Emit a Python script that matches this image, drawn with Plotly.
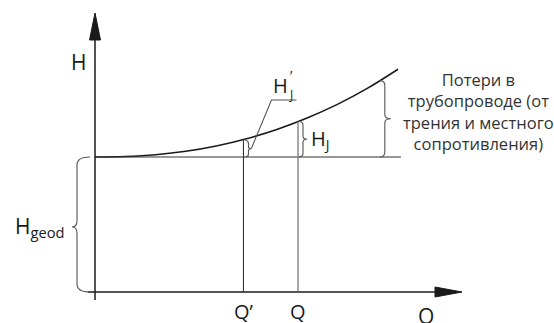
import plotly.graph_objects as go
import numpy as np

# ---- data (schematic system curve) ----
Q_CURVE = [0, 1, 2, 3, 4, 5, 6, 7, 8, 9, 10]
H_CURVE = [10.0, 10.04, 10.17, 10.42, 10.81, 11.35, 12.04, 12.89, 13.9, 15.1, 16.5]
H_GEOD = 10.0
Q_PRIME = 4.9
Q_OP = 6.7
Q_STATIC_END = 10.1
Q_LOSS_BRACE = 9.4
X_LABEL = "Q"
Y_LABEL = "H"
LOSS_TEXT = "Потери в<br>трубопроводе (от<br>трения и местного<br>сопротивления)"

# ---- layout geometry ----
W, HGT = 554, 323
X0_PX, Y0_PX = 95, 292
SX, SY = 30.3, 13.5
FONT = "Open Sans"


def px_x(q):
    return X0_PX + q * SX


def px_y(h):
    return Y0_PX - h * SY


def dat(xp, yp):
    return (xp - X0_PX) / SX, (Y0_PX - yp) / SY


def P(xp, yp):
    x, y = dat(xp, yp)
    return f"{x:.4f},{y:.4f}"


def brace(xe, xb, xt, yt, yb, r=4, r2=4, ym=None):
    if ym is None:
        ym = (yt + yb) / 2
    return (f"M {P(xe, yt)} Q {P(xb, yt)} {P(xb, yt + r)} L {P(xb, ym - r2)} "
            f"Q {P(xb, ym)} {P(xt, ym)} Q {P(xb, ym)} {P(xb, ym + r2)} "
            f"L {P(xb, yb - r)} Q {P(xb, yb)} {P(xe, yb)}")


def h_at(q):
    return float(np.interp(q, Q_CURVE, H_CURVE))


fig = go.Figure()
fig.add_trace(go.Scatter(x=Q_CURVE, y=H_CURVE, mode="lines",
                         line=dict(color="#1a1a1a", width=1.6, shape="spline", smoothing=1.0),
                         hoverinfo="skip", showlegend=False))

shapes = []
BLACK = "#1a1a1a"
GRAY = "#555555"

# axes
ax_x0, ax_y0 = dat(X0_PX, 300)
ax_x1, ax_y1 = dat(X0_PX, 38)
shapes.append(dict(type="line", x0=ax_x0, y0=ax_y0, x1=ax_x1, y1=ax_y1,
                   line=dict(color=BLACK, width=1.5)))
shapes.append(dict(type="path", path=f"M {P(89.5, 40)} L {P(95, 13)} L {P(100.5, 40)} Z",
                   fillcolor=BLACK, line=dict(color=BLACK, width=1)))
bx0, by0 = dat(88, Y0_PX)
bx1, by1 = dat(437, Y0_PX)
shapes.append(dict(type="line", x0=bx0, y0=by0, x1=bx1, y1=by1,
                   line=dict(color=BLACK, width=1.5)))
shapes.append(dict(type="path", path=f"M {P(435, 287)} L {P(462, 292)} L {P(435, 297)} Z",
                   fillcolor=BLACK, line=dict(color=BLACK, width=1)))

# static head line
shapes.append(dict(type="line", x0=0, y0=H_GEOD, x1=Q_STATIC_END, y1=H_GEOD,
                   line=dict(color="#333333", width=1.2)))

# verticals at Q' and Q
shapes.append(dict(type="line", x0=Q_PRIME, y0=0, x1=Q_PRIME, y1=h_at(Q_PRIME),
                   line=dict(color="#333333", width=1.1)))
shapes.append(dict(type="line", x0=Q_OP, y0=0, x1=Q_OP, y1=h_at(Q_OP),
                   line=dict(color="#777777", width=1.3)))

# braces
yg = px_y(H_GEOD)
shapes.append(dict(type="path", path=brace(90, 77, 72, yg, Y0_PX, r=8, r2=6, ym=227),
                   line=dict(color=GRAY, width=1.1)))
xq1 = px_x(Q_PRIME)
shapes.append(dict(type="path", path=brace(xq1 + 2, xq1 + 5, xq1 + 8, px_y(h_at(Q_PRIME)) + 1, yg, r=3, r2=2),
                   line=dict(color=GRAY, width=1.1)))
xq2 = px_x(Q_OP)
shapes.append(dict(type="path", path=brace(xq2 + 1, xq2 + 5, xq2 + 9, px_y(h_at(Q_OP)), yg, r=4, r2=3),
                   line=dict(color=GRAY, width=1.1)))
xb = px_x(Q_LOSS_BRACE)
shapes.append(dict(type="path", path=brace(xb, xb + 5, xb + 11, px_y(h_at(Q_LOSS_BRACE)), yg, r=5, r2=4),
                   line=dict(color=GRAY, width=1.1)))

# leader for H'_J
tipx = xq1 + 8
tipy = (px_y(h_at(Q_PRIME)) + yg) / 2
shapes.append(dict(type="path",
                   path=f"M {P(tipx, tipy)} L {P(tipx + 20, 100)} L {P(tipx + 45, 100)}",
                   line=dict(color=GRAY, width=1.1)))

ann = []


def label(xp, yp, text, size=20, xanchor="center", color="#1a1a1a"):
    x, y = dat(xp, yp)
    ann.append(dict(x=x, y=y, xref="x", yref="y", text=text, showarrow=False,
                    xanchor=xanchor, yanchor="middle",
                    font=dict(family=FONT, size=size, color=color)))


label(78, 62, Y_LABEL, 21)
label(67, 227, "H<sub>geod</sub>", 21, xanchor="right")
label(px_x(Q_PRIME) + 1, 311, "Q’", 20)
label(px_x(Q_OP), 311, "Q", 20)
label(426, 316, X_LABEL, 21)
label(280, 85, "H", 20)
label(291, 94, "J", 12)
label(291, 75, "’", 14)
label(309, 139, "H<sub>J</sub>", 20, xanchor="left")
label(478, 111, LOSS_TEXT, 16.5, color="#333333")

fig.update_layout(
    width=W, height=HGT, margin=dict(l=0, r=0, t=0, b=0),
    paper_bgcolor="white", plot_bgcolor="white",
    xaxis=dict(range=[-X0_PX / SX, (W - X0_PX) / SX], visible=False, fixedrange=True),
    yaxis=dict(range=[-(HGT - Y0_PX) / SY, Y0_PX / SY], visible=False, fixedrange=True),
    shapes=shapes, annotations=ann, showlegend=False,
)
fig.write_html("out.html", config={"displayModeBar": False},
               post_script="document.body.style.margin='0';document.body.style.overflow='hidden';")
